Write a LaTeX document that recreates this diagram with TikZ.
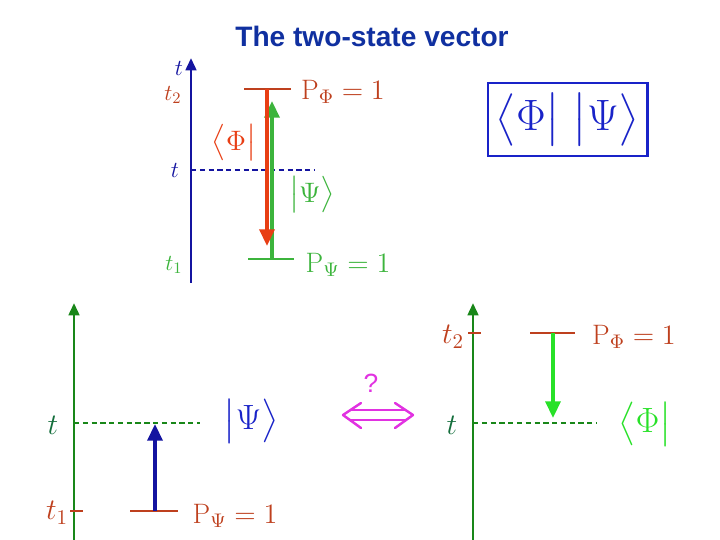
\RequirePackage{fix-cm}
\documentclass[tikz,border=0pt]{standalone}
\usepackage{amsmath}
\usepackage{fontspec}
\newfontfamily\titlefont{Liberation Sans}
\usetikzlibrary{arrows.meta}
\definecolor{axisblue}{RGB}{20,20,160}
\definecolor{titleblue}{RGB}{16,48,160}
\definecolor{boxblue}{RGB}{25,35,200}
\definecolor{rust}{RGB}{190,64,30}
\definecolor{redarrow}{RGB}{232,62,20}
\definecolor{lgreen}{RGB}{60,180,60}
\definecolor{bgreen}{RGB}{40,225,40}
\definecolor{dkgreen}{RGB}{25,135,25}
\definecolor{tgreen}{RGB}{20,110,60}
\definecolor{mag}{RGB}{225,50,225}
\begin{document}
\begin{tikzpicture}[x=0.02cm, y=-0.02cm,
        axis/.style={line width=1.6pt, -{Triangle[length=7pt, width=6pt]}},
        bar/.style={line width=1.7pt},
        evol/.style={line width=2pt, -{Triangle[length=9.5pt, width=8.5pt]}},
        guide/.style={dashed, dash pattern=on 3pt off 2pt, line width=0.6pt},
        lbl/.style={inner sep=0pt, font=\fontsize{13}{15}\selectfont},
        biglbl/.style={inner sep=0pt, font=\fontsize{17}{20}\selectfont},
        state/.style={inner sep=0pt, font=\fontsize{16}{19}\selectfont},
        bigstate/.style={inner sep=0pt, font=\fontsize{20}{24}\selectfont},
        equiv/.style={mag, line width=1.4pt, line cap=round, line join=round}
    ]
    \useasboundingbox (0,0) rectangle (720,540);

    % Title
    \node[text=titleblue, font=\titlefont\bfseries\fontsize{16}{19}\selectfont] (title) at (372,36) {The two-state vector};

    % Top panel: time axis
    \coordinate (tbot) at (191,283);
    \coordinate (ttop) at (191,58);
    \draw[axis, axisblue] (tbot) -- (ttop);
    \node[lbl, text=axisblue] (tlab) at (179,68) {$t$};
    \node[lbl, text=rust] (ttwo) at (173,95) {$t_2$};
    \node[lbl, text=axisblue] (tmid) at (175,170) {$t$};
    \node[lbl, text=lgreen] (tone) at (174,265) {$t_1$};
    \coordinate (dashL) at (191,170);
    \coordinate (dashR) at (315,170);
    \draw[guide, axisblue] (dashL) -- (dashR);

    % Top panel: boundary conditions
    \coordinate (phiL) at (244,89);
    \coordinate (phiR) at (291,89);
    \coordinate (psiL) at (248,259);
    \coordinate (psiR) at (294,259);
    \draw[bar, rust] (phiL) -- (phiR);
    \draw[bar, lgreen] (psiL) -- (psiR);
    \node[state, text=rust] (pphi) at (343,92) {$\mathrm{P}_{\Phi}=1$};
    \node[state, text=lgreen] (ppsi) at (348,265) {$\mathrm{P}_{\Psi}=1$};

    % Top panel: forward and backward states
    \coordinate (gsrc) at (272,259);
    \coordinate (gdst) at (272,101);
    \coordinate (rsrc) at (267,89);
    \coordinate (rdst) at (267,246);
    \draw[evol, lgreen] (gsrc) -- (gdst);
    \draw[evol, redarrow] (rsrc) -- (rdst);
    \node[state, text=redarrow] (bra) at (234,143) {$\bigl\langle\Phi\bigr|$};
    \node[state, text=lgreen] (ket) at (312,195) {$\bigl|\Psi\bigr\rangle$};

    % Two-state vector box
    \node[draw=boxblue, line width=1.7pt, text=boxblue, minimum width=159*0.02cm, minimum height=73*0.02cm, inner sep=0pt, font=\fontsize{25}{30}\selectfont] (tsv) at (567.5,119.5) {$\bigl\langle\Phi\bigr|\;\bigl|\Psi\bigr\rangle$};

    % Bottom left: forward evolution
    \coordinate (lbot) at (74,540);
    \coordinate (ltop) at (74,303);
    \draw[axis, dkgreen] (lbot) -- (ltop);
    \node[biglbl, text=tgreen] (ltlab) at (53,425) {$t$};
    \node[biglbl, text=rust] (lone) at (57,513) {$t_1$};
    \coordinate (ltickL) at (70,511);
    \coordinate (ltickR) at (83,511);
    \draw[bar, rust] (ltickL) -- (ltickR);
    \coordinate (ldashL) at (74,423);
    \coordinate (ldashR) at (200,423);
    \draw[guide, dkgreen] (ldashL) -- (ldashR);
    \coordinate (lbarL) at (130,511);
    \coordinate (lbarR) at (178,511);
    \draw[bar, rust] (lbarL) -- (lbarR);
    \coordinate (bsrc) at (155,511);
    \coordinate (bdst) at (155,424);
    \draw[evol, axisblue] (bsrc) -- (bdst);
    \node[bigstate, text=boxblue] (lket) at (251,421) {$\bigl|\Psi\bigr\rangle$};
    \node[state, text=rust] (lpsi) at (235,516) {$\mathrm{P}_{\Psi}=1$};

    % Equivalence
    \coordinate (eqL) at (343,415);
    \coordinate (eqR) at (413,415);
    \coordinate (eqLup) at (361,403);
    \coordinate (eqLdn) at (361,428);
    \coordinate (eqRup) at (395,403);
    \coordinate (eqRdn) at (395,428);
    \coordinate (eqA) at (351,410);
    \coordinate (eqB) at (405,410);
    \coordinate (eqC) at (351,420);
    \coordinate (eqD) at (405,420);
    \draw[equiv] (eqLup) -- (eqL) -- (eqLdn);
    \draw[equiv] (eqRup) -- (eqR) -- (eqRdn);
    \draw[equiv] (eqA) -- (eqB);
    \draw[equiv] (eqC) -- (eqD);
    \node[text=mag, font=\titlefont\fontsize{15}{18}\selectfont] (quest) at (371,383) {?};

    % Bottom right: backward evolution
    \coordinate (rbot) at (473,540);
    \coordinate (rtop) at (473,303);
    \draw[axis, dkgreen] (rbot) -- (rtop);
    \node[biglbl, text=rust] (rtwo) at (453,337) {$t_2$};
    \node[biglbl, text=tgreen] (rtlab) at (452,425) {$t$};
    \coordinate (rtickL) at (468,333);
    \coordinate (rtickR) at (481,333);
    \draw[bar, rust] (rtickL) -- (rtickR);
    \coordinate (rdashL) at (473,423);
    \coordinate (rdashR) at (597,423);
    \draw[guide, dkgreen] (rdashL) -- (rdashR);
    \coordinate (rbarL) at (530,333);
    \coordinate (rbarR) at (575,333);
    \draw[bar, rust] (rbarL) -- (rbarR);
    \coordinate (fsrc) at (553,333);
    \coordinate (fdst) at (553,418);
    \draw[evol, bgreen] (fsrc) -- (fdst);
    \node[state, text=rust] (rphi) at (634,337) {$\mathrm{P}_{\Phi}=1$};
    \node[bigstate, text=bgreen] (rbra) at (645,424) {$\bigl\langle\Phi\bigr|$};

\end{tikzpicture}
\end{document}
